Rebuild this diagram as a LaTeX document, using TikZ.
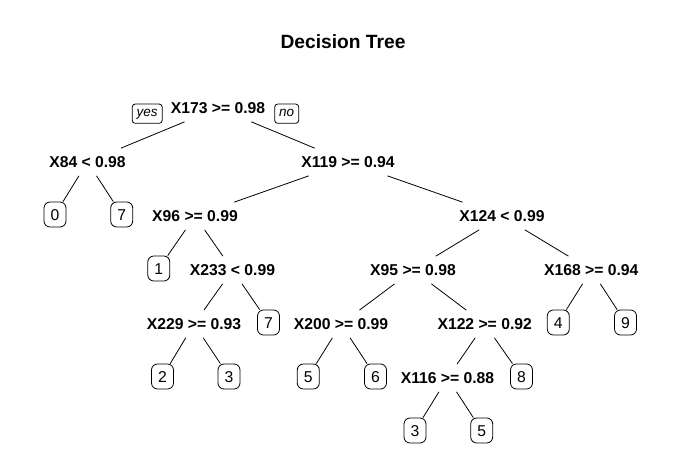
\documentclass[tikz,border=0pt]{standalone}
\usepackage{fontspec}
\setmainfont{Liberation Sans}
\begin{document}
\begin{tikzpicture}[x=1pt, y=-1pt,
	split/.style={font=\fontsize{15.7}{18}\selectfont\bfseries, inner xsep=2pt, inner ysep=8pt, text height=11.3pt, text depth=0pt},
	leaf/.style={draw, rounded corners=6pt, line width=0.8pt, font=\fontsize{15.7}{18}\selectfont, minimum width=22pt, minimum height=25pt, inner sep=0pt, text height=11.3pt, text depth=0pt},
	tag/.style={draw, rounded corners=3pt, line width=0.8pt, font=\fontsize{13.5}{15}\selectfont\itshape, minimum height=19.3pt, inner xsep=4.5pt, text height=9.4pt, text depth=3pt},
	branch/.style={line width=0.8pt}]
\useasboundingbox (0,0) rectangle (688,476);

	%% Titel
	\node[font=\fontsize{19.2}{22}\selectfont\bfseries] (title) at (343,42) {Decision Tree};

	%% Splits
	\node[split] (n173) at (218,108) {X173 >= 0.98};
	\node[tag] (tyes) at (147.2,113.7) {yes};
	\node[tag] (tno) at (286.7,113.7) {no};
	\node[split] (n84) at (87.5,162) {X84 < 0.98};
	\node[split] (n119) at (348,162) {X119 >= 0.94};
	\node[split] (n96) at (195,216) {X96 >= 0.99};
	\node[split] (n124) at (502,216) {X124 < 0.99};
	\node[split] (n233) at (232.5,270) {X233 < 0.99};
	\node[split] (n95) at (413,270) {X95 >= 0.98};
	\node[split] (n168) at (591.3,270) {X168 >= 0.94};
	\node[split] (n229) at (194,324) {X229 >= 0.93};
	\node[split] (n200) at (341,324) {X200 >= 0.99};
	\node[split] (n122) at (484.7,324) {X122 >= 0.92};
	\node[split] (n116) at (447.5,378) {X116 >= 0.88};
	%%%%%%%%%%%%%%%%

	%% Blaetter
	\node[leaf] (lf0) at (55,214.5) {0};
	\node[leaf] (lf7a) at (121.7,214.5) {7};
	\node[leaf] (lf1) at (158.8,268.5) {1};
	\node[leaf] (lf7b) at (268.5,322.5) {7};
	\node[leaf] (lf4) at (558.3,322.5) {4};
	\node[leaf] (lf9) at (625.5,322.5) {9};
	\node[leaf] (lf2) at (162.5,376.5) {2};
	\node[leaf] (lf3a) at (229,376.5) {3};
	\node[leaf] (lf5a) at (308.3,376.5) {5};
	\node[leaf] (lf6) at (375.5,376.5) {6};
	\node[leaf] (lf8) at (521.5,376.5) {8};
	\node[leaf] (lf3b) at (415,430.5) {3};
	\node[leaf] (lf5b) at (481.7,430.5) {5};
	%%%%%%%%%%%%%%%%

	%% Aeste
	\draw[branch] (n173) -- (n84);
	\draw[branch] (n173) -- (n119);
	\draw[branch] (n84) -- (lf0);
	\draw[branch] (n84) -- (lf7a);
	\draw[branch] (n119) -- (n96);
	\draw[branch] (n119) -- (n124);
	\draw[branch] (n96) -- (lf1);
	\draw[branch] (n96) -- (n233);
	\draw[branch] (n233) -- (n229);
	\draw[branch] (n233) -- (lf7b);
	\draw[branch] (n229) -- (lf2);
	\draw[branch] (n229) -- (lf3a);
	\draw[branch] (n124) -- (n95);
	\draw[branch] (n124) -- (n168);
	\draw[branch] (n95) -- (n200);
	\draw[branch] (n95) -- (n122);
	\draw[branch] (n200) -- (lf5a);
	\draw[branch] (n200) -- (lf6);
	\draw[branch] (n122) -- (n116);
	\draw[branch] (n122) -- (lf8);
	\draw[branch] (n116) -- (lf3b);
	\draw[branch] (n116) -- (lf5b);
	\draw[branch] (n168) -- (lf4);
	\draw[branch] (n168) -- (lf9);

\end{tikzpicture}
\end{document}
